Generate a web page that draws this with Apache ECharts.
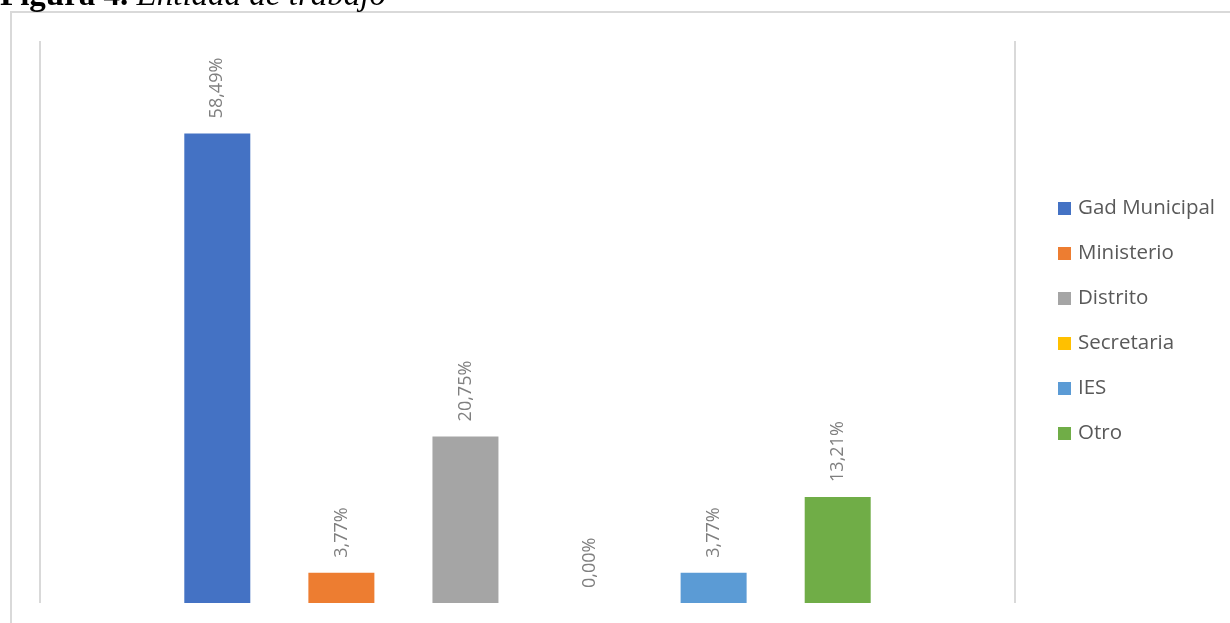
<!DOCTYPE html>
<html>
<head>
<meta charset="utf-8">
<title>Entidad de trabajo</title>
<script src="https://cdn.jsdelivr.net/npm/echarts@6/dist/echarts.min.js"></script>
<style>
  html, body { margin: 0; padding: 0; background: #ffffff; }
  #chart { width: 1230px; height: 623px; }
</style>
</head>
<body>
<div id="chart"></div>
<script>
// Entidad de trabajo: share of respondents by employer type (%)
const categories = ['Entidad'];
const seriesNames = ['Gad Municipal', 'Ministerio', 'Distrito', 'Secretaria', 'IES', 'Otro'];
const seriesValues = [58.49, 3.77, 20.75, 0.00, 3.77, 13.21];
const seriesColors = ['#4472c4', '#ed7d31', '#a5a5a5', '#ffc000', '#5b9bd5', '#70ad47'];

const fmt = v => v.toFixed(2).replace('.', ',') + '%';

const chart = echarts.init(document.getElementById('chart'), null, { renderer: 'canvas' });

const series = seriesNames.map((name, i) => ({
  name: name,
  type: 'bar',
  data: [seriesValues[i]],
  barWidth: 66,
  barGap: '88%',
  itemStyle: { color: seriesColors[i] },
  label: {
    show: true,
    position: 'top',
    rotate: 90,
    align: 'left',
    verticalAlign: 'middle',
    distance: 15,
    color: '#7f7f7f',
    fontSize: 18,
    fontFamily: 'Open Sans',
    formatter: p => fmt(p.value)
  }
}));

chart.setOption({
  animation: false,
  backgroundColor: '#ffffff',
  grid: { left: 40, right: 215, top: 41, bottom: 20, containLabel: false },
  xAxis: {
    type: 'category',
    data: categories,
    axisLine: { show: false },
    axisTick: { show: false },
    axisLabel: { show: false },
    splitLine: { show: true, lineStyle: { color: '#d9d9d9', width: 2 } }
  },
  yAxis: {
    type: 'value',
    min: 0,
    max: 70,
    show: false,
    splitLine: { show: false }
  },
  legend: {
    orient: 'vertical',
    left: 1058,
    top: 198,
    padding: 0,
    itemWidth: 13,
    itemHeight: 13,
    itemGap: 24,
    icon: 'rect',
    textStyle: { color: '#595959', fontSize: 20.5, fontFamily: 'Open Sans', lineHeight: 21, padding: [0, 0, 0, 2] },
    data: seriesNames
  },
  graphic: [
    {
      type: 'rect',
      silent: true,
      shape: { x: 11, y: 12, width: 1260, height: 660 },
      style: { fill: 'none', stroke: '#d9d9d9', lineWidth: 2 }
    },
    {
      type: 'text',
      silent: true,
      x: 0,
      y: -4,
      style: {
        text: '{b|Figura 4. }{i|Entidad de trabajo}',
        verticalAlign: 'middle',
        rich: {
          b: { fontFamily: 'Liberation Serif', fontWeight: 'bold', fontSize: 33, fill: '#000000' },
          i: { fontFamily: 'Liberation Serif', fontStyle: 'italic', fontSize: 33, fill: '#000000' }
        }
      }
    }
  ],
  series: series
});
</script>
</body>
</html>
